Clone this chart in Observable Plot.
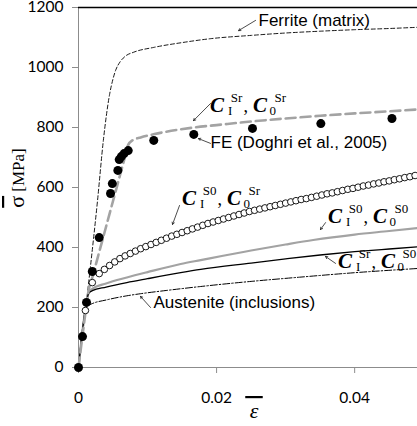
<!DOCTYPE html>
<html>
<head>
<meta charset="utf-8">
<script src="https://cdn.jsdelivr.net/npm/d3@7"></script>
<script src="https://cdn.jsdelivr.net/npm/@observablehq/plot@0.6"></script>
<style>
  body { margin: 0; background: #fff; }
  svg { display: block; }
</style>
</head>
<body>
<div id="chart"></div>
<script>
// Macroscopic stress-strain response of the two-phase steel (stress in MPa).

// Ferrite matrix
const ferriteStrain = [0, 0.0017, 0.00275, 0.0036, 0.0045, 0.005, 0.0054, 0.006, 0.0068, 0.008, 0.0109, 0.015, 0.0191, 0.025, 0.03, 0.035, 0.04, 0.045, 0.0491];
const ferriteStress = [0, 330, 555, 757, 910, 962, 992, 1018, 1038, 1051, 1067, 1083, 1096, 1107, 1115, 1121, 1126, 1130, 1134];

// Austenite inclusions
const austeniteStrain = [0, 0.0012, 0.002, 0.004, 0.007, 0.009, 0.0128, 0.0177, 0.025, 0.032, 0.04, 0.0491];
const austeniteStress = [0, 203, 213, 225, 239, 246, 257, 270, 287, 301, 316, 330];

// Model C_I^Sr, C_0^Sr
const srSrStrain = [0, 0.0012, 0.00145, 0.002, 0.003, 0.004, 0.005, 0.006, 0.0068, 0.0072, 0.0078, 0.009, 0.011, 0.0167, 0.02, 0.025, 0.03, 0.035, 0.04, 0.045, 0.0491];
const srSrStress = [0, 215, 255, 300, 385, 470, 555, 640, 708, 742, 757, 767, 778, 800, 808, 820, 830, 839, 847, 854, 860];

// Model C_I^S0, C_0^S0
const s0S0Strain = [0, 0.0015, 0.002, 0.004, 0.007, 0.01, 0.0148, 0.0177, 0.025, 0.03, 0.034, 0.04, 0.045, 0.0491];
const s0S0Stress = [0, 250, 262, 280, 300, 318, 345, 358, 390, 410, 425, 443, 455, 465];

// Model C_I^Sr, C_0^S0
const srS0Strain = [0, 0.0015, 0.002, 0.004, 0.007, 0.01, 0.0148, 0.0177, 0.025, 0.03, 0.035, 0.04, 0.045, 0.0491];
const srS0Stress = [0, 248, 256, 268, 283, 296, 316, 327, 348, 362, 375, 386, 395, 402];

// Model C_I^S0, C_0^Sr (open markers)
const s0SrStrain = [0.001, 0.002, 0.003, 0.00375, 0.0045, 0.00525, 0.006, 0.00675, 0.0075, 0.00825, 0.009, 0.00975,
  0.0105, 0.01125, 0.012, 0.01275, 0.0135, 0.01425, 0.015, 0.01575, 0.0165, 0.01725, 0.018, 0.01875,
  0.0195, 0.02025, 0.021, 0.02175, 0.0225, 0.02325, 0.024, 0.02475, 0.0255, 0.02625, 0.027, 0.02775,
  0.0285, 0.02925, 0.03, 0.03075, 0.0315, 0.03225, 0.033, 0.03375, 0.0345, 0.03525, 0.036, 0.03675,
  0.0375, 0.03825, 0.039, 0.03975, 0.0405, 0.04125, 0.042, 0.04275, 0.0435, 0.04425, 0.045, 0.04575,
  0.0465, 0.04725, 0.048, 0.04875];
const s0SrStress = [190, 283, 313, 327, 340, 352, 363, 372, 380, 388, 396, 403,
  410, 417, 424, 431, 438, 444, 450, 456, 462, 468, 474, 480,
  485, 490, 495, 500, 505, 510, 515, 520, 524, 528, 532, 536,
  540, 544, 548, 552, 556, 560, 563, 567, 571, 575, 579, 582,
  586, 590, 594, 597, 601, 605, 608, 612, 615, 619, 622, 626,
  629, 633, 636, 640];

// FE reference (Doghri et al., 2005)
const feStrain = [0, 0.00058, 0.00116, 0.002, 0.003, 0.00464, 0.0049, 0.0057, 0.0059, 0.0062, 0.0066, 0.0072, 0.0109, 0.0167, 0.0252, 0.0351, 0.0454];
const feStress = [0, 103, 217, 320, 433, 580, 613, 657, 693, 703, 713, 723, 757, 777, 797, 813, 830];

const xTicks = [0, 0.02, 0.04];
const yTicks = [0, 200, 400, 600, 800, 1000, 1200];

const table = (xs, ys) => xs.map((e, i) => ({e, s: ys[i]}));
const ferrite = table(ferriteStrain, ferriteStress);
const austenite = table(austeniteStrain, austeniteStress);
const srSr = table(srSrStrain, srSrStress);
const s0S0 = table(s0S0Strain, s0S0Stress);
const srS0 = table(srS0Strain, srS0Stress);
const s0Sr = table(s0SrStrain, s0SrStress);
const fe = table(feStrain, feStress);

const sans = "'Liberation Sans', Arial, sans-serif";
const serif = "'Liberation Serif', 'Times New Roman', serif";

const arrows = [
  {x1: 0.02565, y1: 1157, x2: 0.02319, y2: 1123},
  {x1: 0.01912, y1: 880, x2: 0.01666, y2: 823},
  {x1: 0.01912, y1: 747, x2: 0.01738, y2: 763},
  {x1: 0.01463, y1: 540, x2: 0.01362, y2: 477},
  {x1: 0.03578, y1: 483, x2: 0.03505, y2: 460},
  {x1: 0.03723, y1: 347, x2: 0.03578, y2: 370},
  {x1: 0.01043, y1: 200, x2: 0.00898, y2: 237}
];

const plot = Plot.plot({
  width: 417,
  height: 426,
  marginLeft: 78,
  marginRight: 0,
  marginTop: 7,
  marginBottom: 59,
  style: {fontFamily: "Lato, sans-serif", fontSize: "15.5px", background: "white", overflow: "visible"},
  x: {domain: [0, 0.0491], ticks: xTicks, tickFormat: d => d === 0 ? "0" : d.toFixed(2), tickSize: 6, tickPadding: 18, label: null},
  y: {domain: [0, 1200], ticks: yTicks, tickFormat: d => String(d), tickSize: 6, tickPadding: 9, label: null},
  marks: [
    Plot.ruleY([0], {stroke: "#8c8c8c", strokeWidth: 1}),
    Plot.ruleX([0], {stroke: "#8c8c8c", strokeWidth: 1}),
    Plot.ruleY([1200], {stroke: "black", strokeWidth: 1.5}),
    Plot.line(ferrite, {x: "e", y: "s", stroke: "black", strokeWidth: 0.9, strokeDasharray: "4,2.5", curve: "monotone-x"}),
    Plot.line(austenite, {x: "e", y: "s", stroke: "black", strokeWidth: 1, strokeDasharray: "7,2,1.5,2", curve: "monotone-x"}),
    Plot.line(s0S0, {x: "e", y: "s", stroke: "#a3a3a3", strokeWidth: 2.2, curve: "monotone-x"}),
    Plot.line(srS0, {x: "e", y: "s", stroke: "black", strokeWidth: 1.3, curve: "monotone-x"}),
    Plot.line(srSr, {x: "e", y: "s", stroke: "#a3a3a3", strokeWidth: 2.6, strokeDasharray: "10,5", curve: "monotone-x"}),
    Plot.dot(s0Sr, {x: "e", y: "s", r: 3.3, stroke: "black", strokeWidth: 0.9, fill: "white"}),
    Plot.dot(fe, {x: "e", y: "s", r: 4.5, fill: "black", stroke: "none"}),
    Plot.arrow(arrows, {x1: "x1", y1: "y1", x2: "x2", y2: "y2", stroke: "black", strokeWidth: 0.7, headLength: 5}),
    Plot.text(["Ferrite (matrix)"], {x: 0.02607, y: 1157, textAnchor: "start", fontSize: 17, fontFamily: sans, fill: "black"}),
    Plot.text(["FE (Doghri et al., 2005)"], {x: 0.01912, y: 750, textAnchor: "start", fontSize: 17, fontFamily: sans, fill: "black"}),
    Plot.text(["Austenite (inclusions)"], {x: 0.01086, y: 217, textAnchor: "start", fontSize: 17, fontFamily: sans, fill: "black"})
  ]
});

document.getElementById("chart").appendChild(plot);

const svg = d3.select(plot);
svg.selectAll('[aria-label="x-axis tick"], [aria-label="y-axis tick"]').attr("stroke", "#8c8c8c");

const sx = plot.scale("x"), sy = plot.scale("y");
const fx = sx.apply ? v => sx.apply(v) : d3.scaleLinear(sx.domain, sx.range);
const fy = sy.apply ? v => sy.apply(v) : d3.scaleLinear(sy.domain, sy.range);

// Model labels: C with phase subscript (I / 0) and stress-state superscript
function modelLabel(eps, sig, supI, sup0) {
  const t = svg.append("text")
    .attr("x", fx(eps)).attr("y", fy(sig))
    .attr("text-anchor", "start")
    .attr("font-family", serif).attr("fill", "black");
  const part = (txt, size, opts = {}) => {
    const s = t.append("tspan").attr("font-size", size).text(txt);
    if (opts.dx != null) s.attr("dx", opts.dx);
    if (opts.dy != null) s.attr("dy", opts.dy);
    if (opts.bold) s.attr("font-weight", "bold").attr("font-style", "italic");
    return s;
  };
  part("C", 21, {bold: true});
  part("I", 13, {dx: 4, dy: 3});
  part(supI, 13, {dx: -1.5, dy: -13});
  part(",", 18, {dx: 1, dy: 10});
  part("C", 21, {bold: true, dx: 5});
  part("0", 13, {dx: 2.5, dy: 3});
  part(sup0, 13, {dx: -1.5, dy: -13});
}
modelLabel(0.01912, 850, "Sr", "Sr");
modelLabel(0.01506, 540, "S0", "Sr");
modelLabel(0.03621, 480, "S0", "S0");
modelLabel(0.03766, 330, "Sr", "S0");

// Axis titles
const yTitle = svg.append("text")
  .attr("transform", "translate(24,178) rotate(-90)")
  .attr("text-anchor", "middle")
  .attr("font-family", serif).attr("fill", "black");
yTitle.append("tspan").attr("font-size", 22).style("text-decoration", "overline").text("σ");
yTitle.append("tspan").attr("font-size", 17).text(" [MPa]");

svg.append("text")
  .attr("x", 254).attr("y", 418)
  .attr("text-anchor", "middle")
  .attr("font-family", serif).attr("font-style", "italic").attr("font-size", 22)
  .style("text-decoration", "overline")
  .attr("fill", "black")
  .text("\u2009ε\u2009");
</script>
</body>
</html>
